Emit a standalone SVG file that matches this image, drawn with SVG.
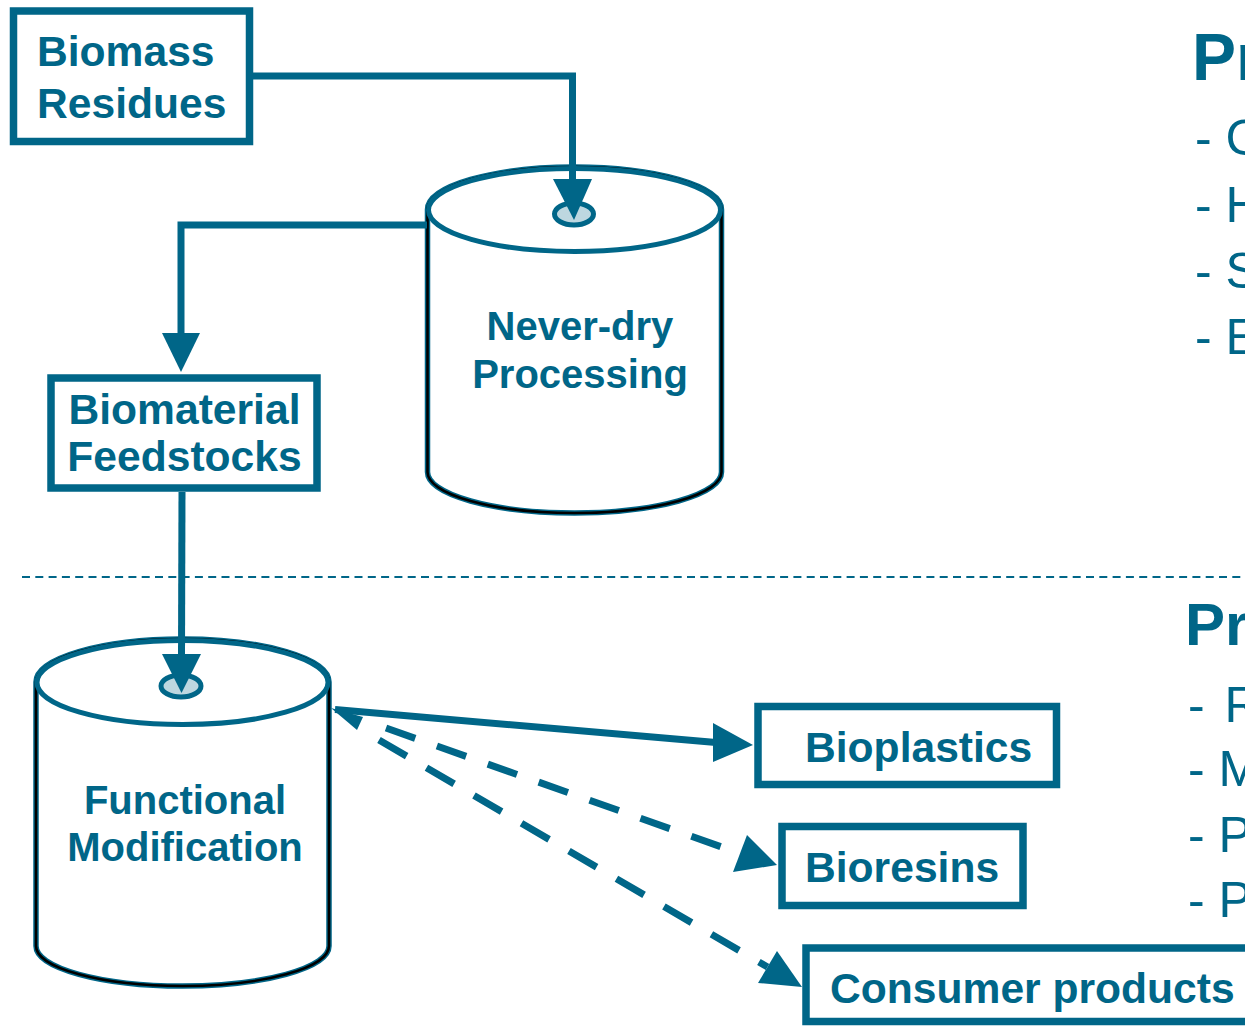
<svg xmlns="http://www.w3.org/2000/svg" width="1245" height="1026" viewBox="0 0 1245 1026">
  <style>
    .box { fill: #ffffff; stroke: #006688; stroke-width: 7.5; }
    .lbl { font-family: "Liberation Sans", Arial, sans-serif; font-weight: bold; font-size: 42.6px; fill: #006688; }
    .clbl { font-family: "Liberation Sans", Arial, sans-serif; font-weight: bold; font-size: 40px; fill: #006688; text-anchor: middle; }
    .body-teal { fill: #ffffff; stroke: #006688; stroke-width: 5.5; }
    .body-dark { fill: none; stroke: #000000; stroke-width: 2.6; }
    .lid { fill: none; stroke: #006688; stroke-width: 5; }
    .port { fill: #BDD7E0; stroke: #006688; stroke-width: 5; }
    .wire { fill: none; stroke: #006688; stroke-width: 7; }
    .dash { fill: none; stroke: #006688; stroke-width: 7; }
    .head { fill: #006688; }
    .sep { stroke: #006688; stroke-width: 2; stroke-dasharray: 8 5.3; }
    .head-txt { font-family: "Liberation Sans", Arial, sans-serif; font-weight: bold; fill: #006688; }
    .item { font-family: "Liberation Sans", Arial, sans-serif; font-size: 50px; fill: #006688; }
  </style>

  <!-- stage separator -->
  <line class="sep" x1="22" y1="577" x2="1245" y2="577"/>

  <!-- side panel headings and bullet lists -->
  <g id="panel-top">
    <text class="head-txt" x="1192" y="80" font-size="66">Pr</text>
    <text class="item" x="1195" y="155">- C</text>
    <text class="item" x="1195" y="222">- H</text>
    <text class="item" x="1195" y="288">- S</text>
    <text class="item" x="1195" y="354">- E</text>
  </g>
  <g id="panel-bottom">
    <text class="head-txt" x="1185" y="645" font-size="60">Pr</text>
    <text class="item" x="1188" y="722">- <tspan dx="6">R</tspan></text>
    <text class="item" x="1188" y="786">- M</text>
    <text class="item" x="1188" y="852">- P</text>
    <text class="item" x="1188" y="917">- P</text>
  </g>

  <!-- nodes -->
  <g id="biomass-residues">
    <rect class="box" x="13.5" y="11" width="236" height="130.5"/>
    <text class="lbl" x="37" y="66">Biomass</text>
    <text class="lbl" x="37" y="118">Residues</text>
  </g>

  <g id="never-dry-processing">
    <path class="body-teal" d="M427.5,209.5 L427.5,472 A147,41 0 0 0 721.5,472 L721.5,209.5 A147,42.5 0 0 0 427.5,209.5 Z"/>
    <path class="body-dark" d="M427.5,209.5 L427.5,472 A147,41 0 0 0 721.5,472 L721.5,209.5 A147,42.5 0 0 0 427.5,209.5"/>
    <ellipse class="lid" cx="574.5" cy="210" rx="146" ry="41.5"/>
    <ellipse class="port" cx="574" cy="214" rx="19.5" ry="11"/>
    <text class="clbl" x="580" y="340">Never-dry</text>
    <text class="clbl" x="580" y="388">Processing</text>
  </g>

  <g id="biomaterial-feedstocks">
    <rect class="box" x="51" y="378" width="266" height="110"/>
    <text class="lbl" x="184.5" y="424" text-anchor="middle">Biomaterial</text>
    <text class="lbl" x="184.5" y="471" text-anchor="middle">Feedstocks</text>
  </g>

  <g id="functional-modification">
    <path class="body-teal" d="M36,682 L36,946 A146.5,40 0 0 0 329,946 L329,682 A146.5,43 0 0 0 36,682 Z"/>
    <path class="body-dark" d="M36,682 L36,946 A146.5,40 0 0 0 329,946 L329,682 A146.5,43 0 0 0 36,682"/>
    <ellipse class="lid" cx="182.5" cy="682.5" rx="145.5" ry="42"/>
    <ellipse class="port" cx="181" cy="686" rx="20" ry="11"/>
    <text class="clbl" x="185" y="814">Functional</text>
    <text class="clbl" x="185" y="861">Modification</text>
  </g>

  <g id="bioplastics">
    <rect class="box" x="758" y="706.5" width="298.5" height="78"/>
    <text class="lbl" x="805" y="762">Bioplastics</text>
  </g>

  <g id="bioresins">
    <rect class="box" x="782" y="826.5" width="241" height="79"/>
    <text class="lbl" x="805" y="882">Bioresins</text>
  </g>

  <g id="consumer-products">
    <rect class="box" x="806" y="948" width="460" height="73.5"/>
    <text class="lbl" x="830" y="1003">Consumer products</text>
  </g>

  <!-- connectors -->
  <g id="connectors">
    <!-- residues into never-dry processing -->
    <polyline class="wire" points="253,76 572.5,76 572.5,182"/>
    <polygon class="head" points="553,179 592,179 574,220"/>

    <!-- never-dry processing to feedstocks -->
    <polyline class="wire" points="427,225 181,225 181,336"/>
    <polygon class="head" points="162,333 200,333 181,372"/>

    <!-- feedstocks into functional modification -->
    <line class="wire" x1="182" y1="492" x2="181.5" y2="657"/>
    <polygon class="head" points="162,654 201,654 181.5,693"/>

    <!-- functional modification to bioplastics (solid) -->
    <line class="wire" x1="335" y1="709.5" x2="716" y2="742.5"/>
    <polygon class="head" points="713,723 713,762 753,745"/>
    <polygon class="head" points="331,708 363,717 357,730"/>

    <!-- functional modification to bioresins (dashed) -->
    <line class="dash" x1="386" y1="728" x2="740" y2="853.5" stroke-dasharray="31 23"/>
    <polygon class="head" points="747,835 733,872 777,865"/>

    <!-- functional modification to consumer products (dashed) -->
    <line class="dash" x1="379" y1="740" x2="767.5" y2="967" stroke-dasharray="32 23"/>
    <polygon class="head" points="777,951 758,983 802,987"/>
  </g>
</svg>
